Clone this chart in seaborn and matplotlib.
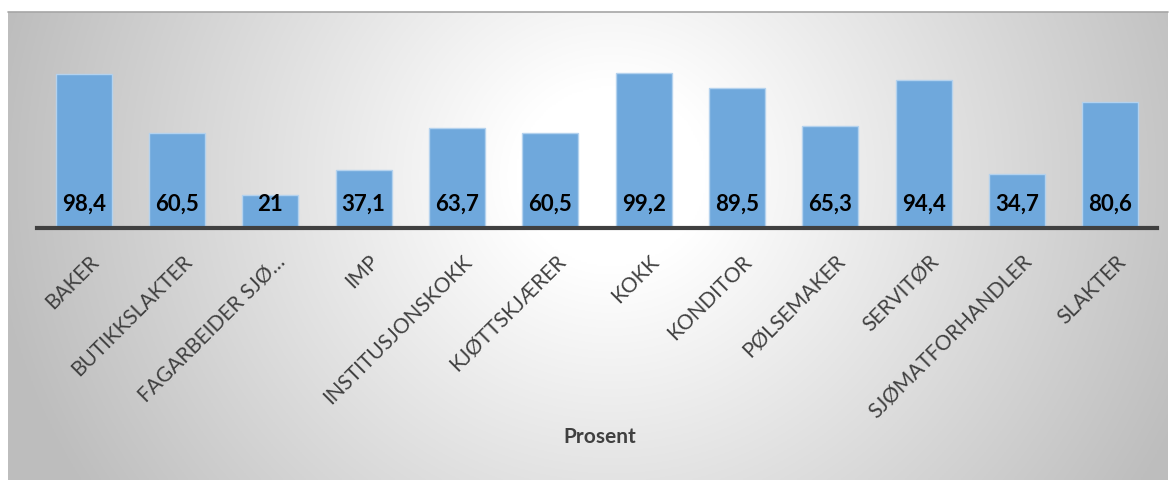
import numpy as np
import pandas as pd
import matplotlib
matplotlib.use("Agg")
import matplotlib.pyplot as plt
import matplotlib.transforms as mtransforms
import seaborn as sns

categories = ["BAKER", "BUTIKKSLAKTER", "FAGARBEIDER SJØ…", "IMP", "INSTITUSJONSKOKK",
              "KJØTTSKJÆRER", "KOKK", "KONDITOR", "PØLSEMAKER", "SERVITØR",
              "SJØMATFORHANDLER", "SLAKTER"]
values = [98.4, 60.5, 21, 37.1, 63.7, 60.5, 99.2, 89.5, 65.3, 94.4, 34.7, 80.6]
value_labels = ["98,4", "60,5", "21", "37,1", "63,7", "60,5", "99,2", "89,5",
                "65,3", "94,4", "34,7", "80,6"]
axis_title = "Prosent"

sns.set_theme(style="white")
plt.rcParams['font.family'] = ['Lato', 'DejaVu Sans']

W, H = 1175, 480
fig = plt.figure(figsize=(W / 100, H / 100), dpi=100)
fig.patch.set_facecolor("white")

# background panel with radial gradient
bg = fig.add_axes([8 / W, 0, (1168 - 8) / W, (H - 12) / H])
nx, ny = 600, 250
xx, yy = np.meshgrid(np.linspace(0, 1, nx), np.linspace(0, 1, ny))
cx, cy = 0.52, 0.35
d = np.sqrt(((xx - cx) / 0.55) ** 2 + ((yy - cy) / 1.3) ** 2)
t = np.clip((d - 0.15) / 0.82, 0, 1)
g = 1.0 - (1.0 - 0.745) * t
img = np.dstack([g, g, g])
bg.imshow(img, aspect="auto", extent=[0, 1, 0, 1], origin="upper")
bg.plot([0, 1], [1, 1], color="#A6A6A6", lw=1.2, transform=bg.transAxes, clip_on=False)
bg.set_axis_off()

ax = fig.add_axes([37 / W, (H - 228) / H, (1157 - 37) / W, 188 / H])
ax.patch.set_alpha(0)
df = pd.DataFrame({"cat": categories, "val": values})
sns.barplot(data=df, x="cat", y="val", color="#6FA8DC", saturation=1, width=0.6,
            edgecolor="#B4D2EE", linewidth=1.0, ax=ax)
ax.set_xlim(-0.5, len(categories) - 0.5)
ax.set_ylim(0, 120)
ax.set_yticks([])
ax.set_ylabel("")
ax.set_xlabel("")
for s in ["top", "right", "left"]:
    ax.spines[s].set_visible(False)
ax.spines["bottom"].set_color("#404040")
ax.spines["bottom"].set_linewidth(3)
ax.tick_params(axis="x", length=0, pad=17)
ax.set_xticks(range(len(categories)))
ax.set_xticklabels(categories, rotation=45, ha="right", va="top",
                   rotation_mode="anchor", fontsize=15, color="#404040")
shift = mtransforms.ScaledTranslation(5 / 100, 0, fig.dpi_scale_trans)
for lbl in ax.get_xticklabels():
    lbl.set_transform(lbl.get_transform() + shift)

for i, lab in enumerate(value_labels):
    ax.annotate(lab, xy=(i, 0), xytext=(0, 12.5), textcoords="offset points",
                ha="center", va="baseline", fontsize=16, fontweight="bold",
                color="black")

fig.text(600 / W, 1 - 437 / H, axis_title, ha="center", va="center",
         fontsize=15, fontweight="bold", color="#404040")

fig.savefig("out.png", dpi=100)
